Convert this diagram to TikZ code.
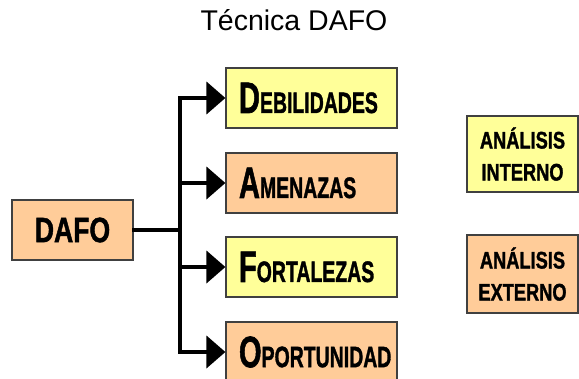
\documentclass[tikz,border=0pt]{standalone}
\usepackage{fontspec}
\setmainfont{Liberation Sans}
\newfontfamily\heavy{Liberation Sans}[BoldFeatures={FakeBold=1.6}]
\usetikzlibrary{arrows.meta}
\definecolor{yel}{HTML}{FFFF99}
\definecolor{ora}{HTML}{FFCC99}
\definecolor{edge}{HTML}{404040}
\newcommand\capsm[2]{\scalebox{0.66}[1]{\heavy\bfseries{\fontsize{44}{44}\selectfont #1}{\fontsize{29.5}{29.5}\selectfont #2}}}
\begin{document}
\begin{tikzpicture}[x=1pt,y=-1pt,
  box/.style={draw=edge, line width=1.2pt, inner sep=0pt, minimum height=60pt},
  item/.style={box, minimum width=171pt, text width=145pt, align=left},
  side/.style={box, minimum width=111pt, align=center, font=\heavy\bfseries\fontsize{24}{32}\selectfont},
  conn/.style={line width=4pt, line cap=rect},
  arr/.style={line width=4pt, -{Triangle[length=19pt,width=32pt]}}]
\useasboundingbox (0,0) rectangle (579,378);
\node (title) at (294,20) {\fontsize{28.5}{28.5}\selectfont Técnica DAFO};
\node[box, fill=ora, minimum width=121pt] (dafo) at (72.5,230) {\scalebox{0.76}[1]{\heavy\bfseries\fontsize{35}{35}\selectfont DAFO}};
\node[item, fill=yel] (deb) at (311.5,98) {\capsm{D}{EBILIDADES}};
\node[item, fill=ora] (ame) at (311.5,183) {\capsm{A}{MENAZAS}};
\node[item, fill=yel] (fort) at (311.5,267) {\capsm{F}{ORTALEZAS}};
\node[item, fill=ora] (opo) at (311.5,352) {\capsm{O}{PORTUNIDAD}};
\node[side, fill=yel, minimum height=76pt] (ai) at (522.5,154) {\scalebox{0.76}[1]{ANÁLISIS}\\\scalebox{0.76}[1]{INTERNO}};
\node[side, fill=ora, minimum height=78pt] (ae) at (522.5,274) {\scalebox{0.76}[1]{ANÁLISIS}\\\scalebox{0.76}[1]{EXTERNO}};
\coordinate (j) at (180,230);
\draw[conn] (dafo.east) -- (j);
\draw[conn] (j |- deb.west) -- (j |- opo.west);
\draw[arr] (j |- deb.west) -- (deb.west);
\draw[arr] (j |- ame.west) -- (ame.west);
\draw[arr] (j |- fort.west) -- (fort.west);
\draw[arr] (j |- opo.west) -- (opo.west);
\end{tikzpicture}
\end{document}
